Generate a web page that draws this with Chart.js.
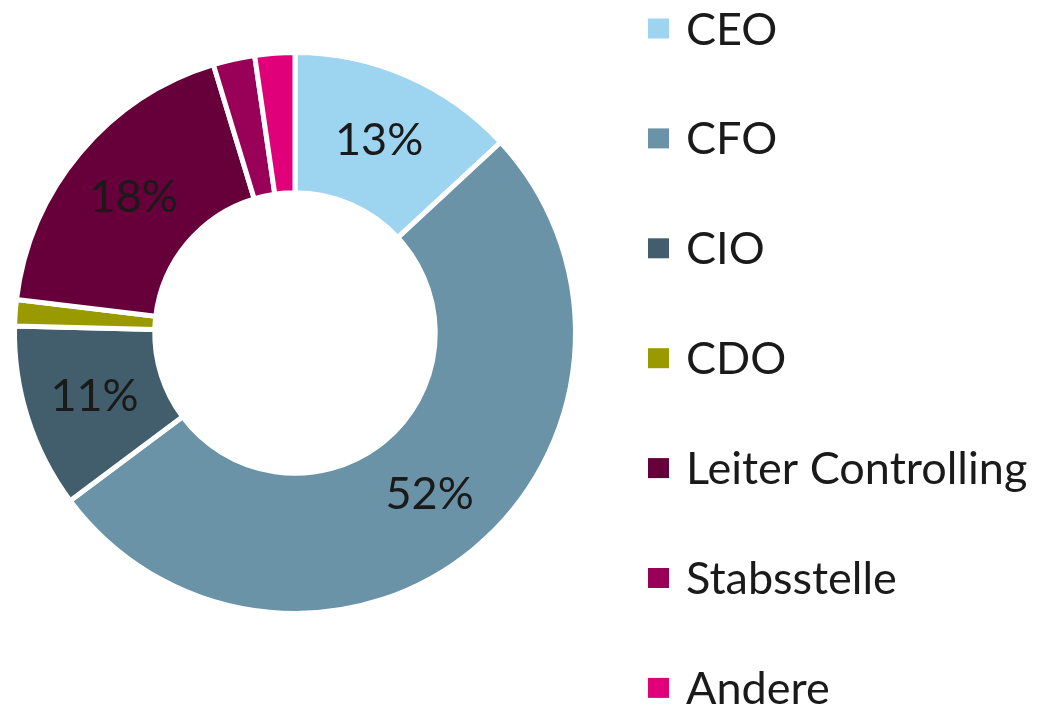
<!DOCTYPE html>
<html>
<head>
<meta charset="utf-8">
<script src="https://cdn.jsdelivr.net/npm/chart.js@4.4.1/dist/chart.umd.min.js"></script>
<style>
  html, body { margin: 0; padding: 0; background: #ffffff; }
  #wrap { position: relative; width: 1037px; height: 706px; }
</style>
</head>
<body>
<div id="wrap"><canvas id="c" width="1037" height="706"></canvas></div>
<script>
const categories = ['CEO', 'CFO', 'CIO', 'CDO', 'Leiter Controlling', 'Stabsstelle', 'Andere'];
const shares = [13.1, 51.7, 10.6, 1.5, 18.4, 2.4, 2.3];
const colors = ['#9dd4f0', '#6a93a8', '#425e6c', '#999900', '#67003a', '#990057', '#e0007a'];
const FONT = 'Lato, "Open Sans", sans-serif';

const sliceLabels = {
  id: 'sliceLabels',
  afterDatasetsDraw(chart) {
    const ctx = chart.ctx;
    const meta = chart.getDatasetMeta(0);
    ctx.save();
    ctx.font = '45px ' + FONT;
    ctx.fillStyle = '#1a1a1a';
    ctx.textAlign = 'center';
    ctx.textBaseline = 'middle';
    meta.data.forEach((arc, i) => {
      const v = chart.data.datasets[0].data[i];
      if (v < 5) return;
      const p = arc.tooltipPosition();
      ctx.fillText(Math.round(v) + '%', p.x, p.y);
    });
    ctx.restore();
  }
};

const sideLegend = {
  id: 'sideLegend',
  afterDraw(chart) {
    const ctx = chart.ctx;
    const ds = chart.data.datasets[0];
    ctx.save();
    ctx.font = '45px ' + FONT;
    ctx.textAlign = 'left';
    ctx.textBaseline = 'alphabetic';
    chart.data.labels.forEach((lab, i) => {
      const cy = 28.5 + i * 109.9;
      ctx.fillStyle = ds.backgroundColor[i];
      ctx.fillRect(648, cy - 10, 21, 20);
      ctx.fillStyle = '#1a1a1a';
      ctx.fillText(lab, 686, cy + 16);
    });
    ctx.restore();
  }
};

new Chart(document.getElementById('c'), {
  type: 'doughnut',
  data: {
    labels: categories,
    datasets: [{
      data: shares,
      backgroundColor: colors,
      borderColor: '#ffffff',
      borderWidth: 5,
      hoverOffset: 0
    }]
  },
  options: {
    responsive: false,
    animation: false,
    cutout: '50%',
    layout: { padding: { left: 12, top: 50, right: 459, bottom: 90 } },
    plugins: {
      legend: { display: false },
      tooltip: { enabled: false }
    }
  },
  plugins: [sliceLabels, sideLegend]
});
</script>
</body>
</html>
